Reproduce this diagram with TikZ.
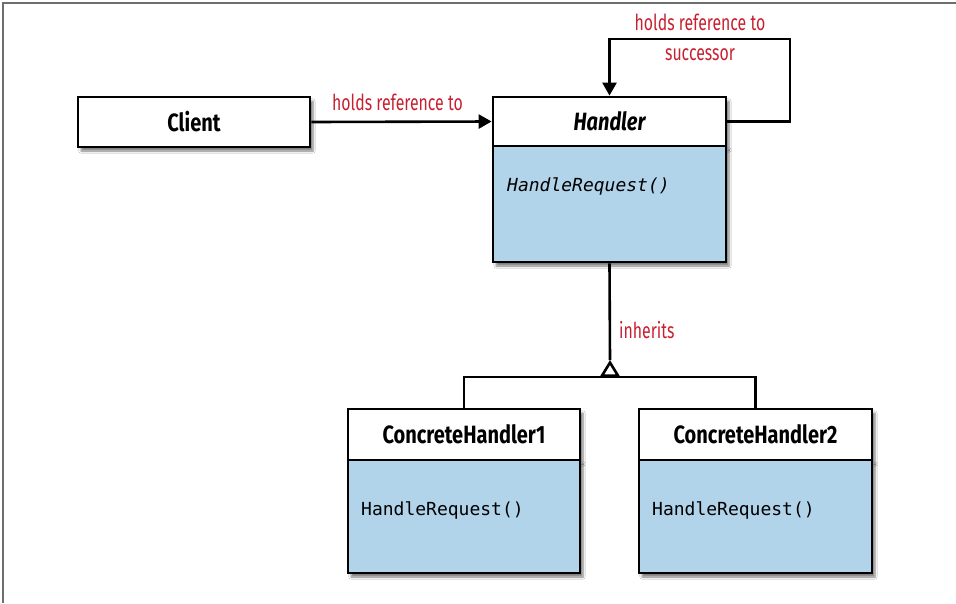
\documentclass[tikz,border=0pt]{standalone}
\usepackage{fontspec}
\setmainfont{Fira Sans}
\newfontfamily\condfont[FakeStretch=0.8]{Fira Sans}
\newfontfamily\narrowfont[FakeStretch=0.72]{Fira Sans}
\setmonofont{DejaVu Sans Mono}
\usetikzlibrary{arrows.meta,shadows.blur}
\definecolor{boxblue}{RGB}{178,212,234}
\definecolor{labelred}{RGB}{200,32,48}
\definecolor{framegray}{RGB}{110,110,110}
\begin{document}
\begin{tikzpicture}[x=1pt,y=-1pt,
  umlbox/.style={draw=black, line width=2.8pt, rectangle, inner sep=0pt,
    blur shadow={shadow xshift=3pt, shadow yshift=-4pt, shadow opacity=50, shadow blur steps=6}},
  headbox/.style={umlbox, fill=white, font=\condfont\bfseries\fontsize{25}{28}\selectfont},
  bodybox/.style={umlbox, fill=boxblue},
  method/.style={anchor=west, inner sep=0pt, font=\ttfamily\fontsize{18}{20}\selectfont},
  lbl/.style={text=labelred, inner sep=0pt, font=\narrowfont\fontsize{22}{30}\selectfont},
  conn/.style={draw=black, line width=2.6pt},
  arr/.style={conn, -{Triangle[length=13pt,width=14pt]}}
]
\useasboundingbox (0,0) rectangle (956,603);
\fill[white] (0,0) rectangle (956,603);
\draw[framegray, line width=1.3pt] (3,603) -- (3,3) -- (956,3);

% boxes
\node[headbox, minimum width=232pt, minimum height=50pt] (client) at (194,122) {Client};
\node[headbox, minimum width=233pt, minimum height=49pt] (hh) at (609.5,121.5) {\itshape Handler};
\node[bodybox, minimum width=233pt, minimum height=116pt] (hb) at (609.5,204) {};
\node[headbox, minimum width=232pt, minimum height=51pt] (c1h) at (464,434.5) {ConcreteHandler1};
\node[bodybox, minimum width=232pt, minimum height=113pt] (c1b) at (464,516.5) {};
\node[headbox, minimum width=233pt, minimum height=51pt] (c2h) at (755.5,434.5) {ConcreteHandler2};
\node[bodybox, minimum width=233pt, minimum height=113pt] (c2b) at (755.5,516.5) {};

% methods
\node[method, font=\ttfamily\itshape\fontsize{18}{20}\selectfont] (hm) at (507,186) {HandleRequest()};
\node[method] (c1m) at (361,510) {HandleRequest()};
\node[method] (c2m) at (652,510) {HandleRequest()};

% client -> handler
\draw[arr] (client.east) -- node[lbl, above=10pt, xshift=-4pt] (lclient) {holds reference to} (hh.west);

% self loop
\coordinate (loopc) at (790,39);
\draw[arr] (hh.east) -| (loopc) -| (hh.north);
\node[lbl, align=center] (lself) at (700,37) {holds reference to\\successor};

% inheritance
\coordinate (join) at (610,377);
\coordinate (tip) at (610,360);
\draw[conn] (c1h.north) |- (join) -| (c2h.north);
\draw[conn] (hb.south) -- (tip);
\draw[conn, -{Triangle[open, fill=white, length=17pt, width=20pt]}] (join) -- (tip);
\node[lbl, anchor=west] (linh) at (619,330) {inherits};
\end{tikzpicture}
\end{document}
